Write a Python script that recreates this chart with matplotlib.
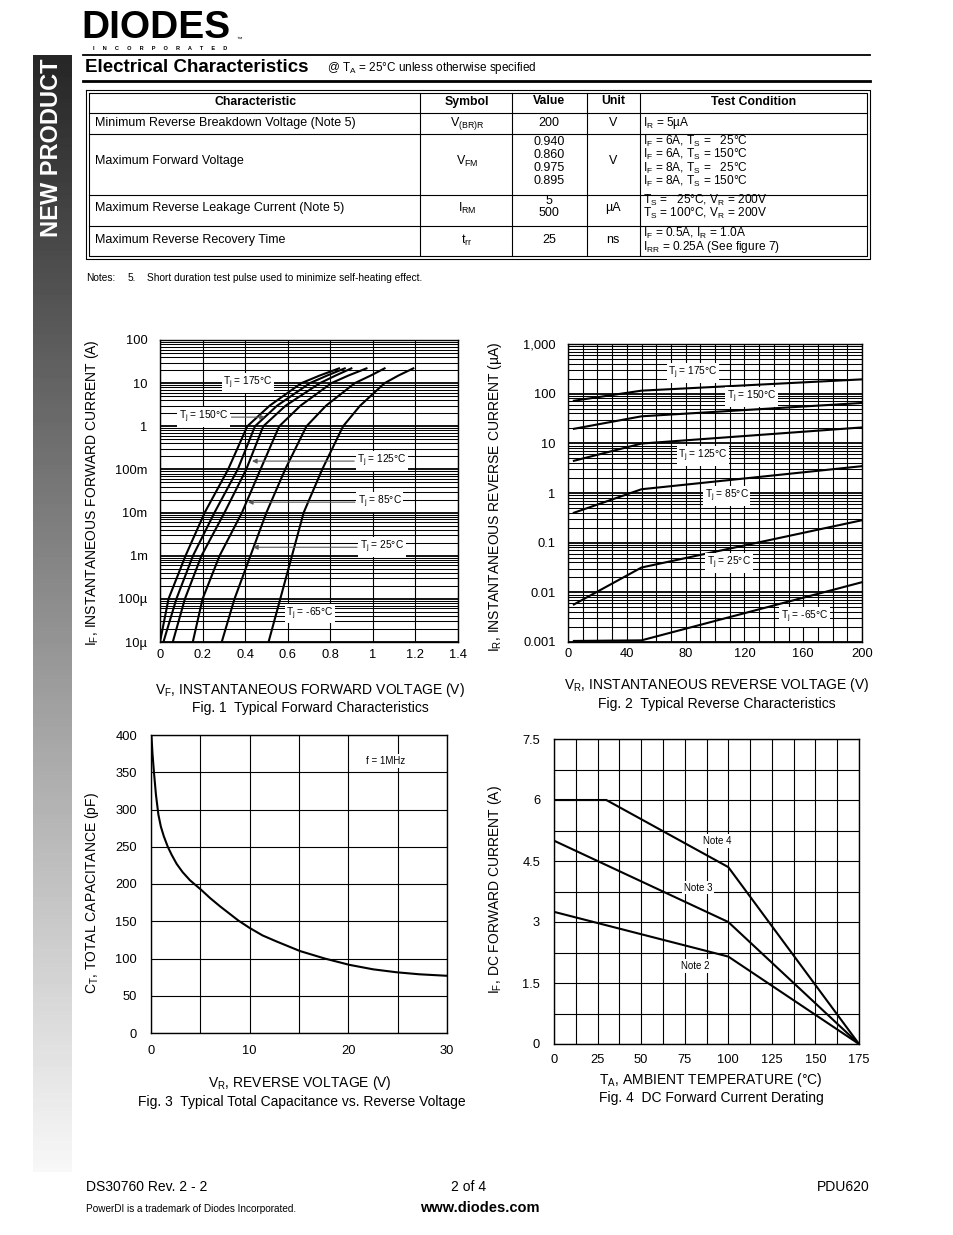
import numpy as np
import matplotlib
matplotlib.use('Agg')
import matplotlib.pyplot as plt
from matplotlib.ticker import LogLocator, NullFormatter, MultipleLocator, FixedLocator

plt.rcParams['font.family'] = ['Liberation Sans', 'DejaVu Sans']
plt.rcParams['mathtext.fontset'] = 'custom'
plt.rcParams['mathtext.rm'] = 'Liberation Sans'
plt.rcParams['mathtext.it'] = 'Liberation Sans'
plt.rcParams['mathtext.bf'] = 'Liberation Sans:bold'

# ---------------- data ----------------
# Fig 1: forward characteristics (current levels, forward voltage per Tj)
fwd_current = [1e-5, 1e-4, 1e-3, 1e-2, 1e-1, 1, 3, 10, 15, 22]
fwd_v_175 = [0.0, 0.04, 0.12, 0.21, 0.32, 0.41, 0.515, 0.664, 0.75, 0.841]
fwd_v_150 = [0.016, 0.077, 0.155, 0.256, 0.365, 0.446, 0.55, 0.704, 0.785, 0.868]
fwd_v_125 = [0.06, 0.117, 0.195, 0.303, 0.405, 0.485, 0.59, 0.751, 0.825, 0.899]
fwd_v_85 = [0.154, 0.2, 0.28, 0.385, 0.472, 0.56, 0.66, 0.805, 0.885, 0.97]
fwd_v_25 = [0.29, 0.35, 0.425, 0.5, 0.588, 0.688, 0.78, 0.915, 0.99, 1.055]
fwd_v_m65 = [0.51, 0.565, 0.62, 0.675, 0.762, 0.86, 0.94, 1.055, 1.12, 1.19]
fig1_yticks = [1e-5, 1e-4, 1e-3, 1e-2, 1e-1, 1, 10, 100]
fig1_ylabels = ['10\u00b5', '100\u00b5', '1m', '10m', '100m', '1', '10', '100']
fig1_xticks = [0, 0.2, 0.4, 0.6, 0.8, 1.0, 1.2, 1.4]
fig1_xlabels = ['0', '0.2', '0.4', '0.6', '0.8', '1', '1.2', '1.4']

# Fig 2: reverse characteristics
rev_voltage = [4, 50, 200]
rev_i_175 = [72, 115, 194]
rev_i_150 = [19.6, 35, 65]
rev_i_125 = [4.45, 9.9, 20.9]
rev_i_85 = [0.40, 1.19, 3.47]
rev_i_25 = [0.0057, 0.0316, 0.283]
rev_i_m65 = [0.00105, 0.00108, 0.016]
fig2_yticks = [1e-3, 1e-2, 1e-1, 1, 10, 100, 1000]
fig2_ylabels = ['0.001', '0.01', '0.1', '1', '10', '100', '1,000']
fig2_xticks = [0, 40, 80, 120, 160, 200]

# Fig 3: capacitance
cap_v = [0.05, 0.15, 0.3, 0.5, 0.75, 1.0, 1.3, 1.7, 2.1, 2.6, 3.2, 3.95, 5.1, 6.0,
         7.0, 8.85, 10, 11.3, 12.7, 15.1, 17.6, 20.1, 22.5, 24.9, 27.2, 30]
cap_pf = [398, 375, 350, 320, 293, 277, 264, 250, 239, 227, 216, 205, 192, 181,
          170, 151, 141, 131, 123, 110, 100, 91.5, 85.5, 81.5, 78.8, 76.8]

# Fig 4: derating
note4_t = [0, 30, 100, 175]
note4_i = [6.0, 6.0, 4.35, 0.0]
note3_t = [0, 100, 175]
note3_i = [5.0, 3.0, 0.0]
note2_t = [0, 100, 175]
note2_i = [3.25, 2.15, 0.0]

# ---------------- figure ----------------
W, H = 954, 1235
fig = plt.figure(figsize=(W / 100, H / 100), dpi=100)
bg = fig.add_axes([0, 0, 1, 1])
bg.set_xlim(0, W)
bg.set_ylim(H, 0)
bg.axis('off')


def fax(l, t, r, b):
    return fig.add_axes([l / W, 1 - b / H, (r - l) / W, (b - t) / H])


# side bar
grad = np.linspace(0.15, 0.97, 256).reshape(-1, 1)
bg.imshow(grad, extent=[33, 72, 1172, 55], cmap='gray', vmin=0, vmax=1,
          aspect='auto', origin='upper', zorder=0)
bg.text(52, 148, 'NEW PRODUCT', rotation=90, color='white', fontsize=17,
        fontweight='bold', ha='center', va='center')

# logo
bg.text(81, 38, 'DIODES', fontsize=28, fontweight='heavy', ha='left',
        va='baseline', color='black')
bg.text(237, 41, '\u2122', fontsize=4, ha='left', va='baseline')
bg.text(160, 48.5, 'I     N     C     O     R     P     O     R     A     T     E     D',
        fontsize=4.1, fontweight='bold', ha='center', va='center')
bg.plot([83, 870], [55, 55], color='k', lw=1.3)
bg.text(85, 68, 'Electrical Characteristics', fontsize=13.5, fontweight='bold',
        ha='left', va='center')
bg.text(327, 68, '@ T$_\\mathregular{A}$ = 25\u00b0C unless otherwise specified',
        fontsize=8.5, ha='left', va='center')
bg.plot([83, 870], [80.5, 80.5], color='k', lw=2.0)

# table
tl, tr, tt, tb = 86, 870, 90, 259
for d in (0, 3):
    bg.plot([tl + d, tr - d, tr - d, tl + d, tl + d],
            [tt + d, tt + d, tb - d, tb - d, tt + d], color='k', lw=0.8)
for y in (113, 134, 195, 226):
    bg.plot([tl + 3, tr - 3], [y, y], color='k', lw=0.8)
for x in (420, 512, 587, 640):
    bg.plot([x, x], [tt + 3, tb - 3], color='k', lw=0.8)

hdr_y = 102
hfs = 8.8
bg.text(256, hdr_y, 'Characteristic', fontsize=hfs, fontweight='bold', ha='center', va='center')
bg.text(467, hdr_y, 'Symbol', fontsize=hfs, fontweight='bold', ha='center', va='center')
bg.text(549, hdr_y - 1, 'Value', fontsize=hfs, fontweight='bold', ha='center', va='center')
bg.text(613, hdr_y - 1, 'Unit', fontsize=hfs, fontweight='bold', ha='center', va='center')
bg.text(754, hdr_y, 'Test Condition', fontsize=hfs, fontweight='bold', ha='center', va='center')

fs = 9
tfs = 8.6
rows_char = [('Minimum Reverse Breakdown Voltage (Note 5)', 123),
             ('Maximum Forward Voltage', 161),
             ('Maximum Reverse Leakage Current (Note 5)', 208),
             ('Maximum Reverse Recovery Time', 240)]
for txt, y in rows_char:
    bg.text(95, y, txt, fontsize=fs, ha='left', va='center')
rows_sym = [('V$_\\mathregular{(BR)R}$', 123), ('V$_\\mathregular{FM}$', 161),
            ('I$_\\mathregular{RM}$', 208), ('t$_\\mathregular{rr}$', 240)]
for txt, y in rows_sym:
    bg.text(467, y, txt, fontsize=fs, ha='center', va='center')
rows_val = [('200', 123), ('0.940', 142), ('0.860', 155), ('0.975', 168), ('0.895', 181),
            ('5', 201), ('500', 213.5), ('25', 240)]
for txt, y in rows_val:
    bg.text(549, y, txt, fontsize=fs, ha='center', va='center')
rows_unit = [('V', 123), ('V', 161), ('\u00b5A', 208), ('ns', 240)]
for txt, y in rows_unit:
    bg.text(613, y, txt, fontsize=fs, ha='center', va='center')
rows_test = [('I$_\\mathregular{R}$ = 5\u00b5A', 123),
             ('I$_\\mathregular{F}$ = 6A, T$_\\mathregular{S}$ =   25\u00b0C', 141.5),
             ('I$_\\mathregular{F}$ = 6A, T$_\\mathregular{S}$ = 150\u00b0C', 154.9),
             ('I$_\\mathregular{F}$ = 8A, T$_\\mathregular{S}$ =   25\u00b0C', 168.3),
             ('I$_\\mathregular{F}$ = 8A, T$_\\mathregular{S}$ = 150\u00b0C', 181.7),
             ('T$_\\mathregular{S}$ =   25\u00b0C, V$_\\mathregular{R}$ = 200V', 200.5),
             ('T$_\\mathregular{S}$ = 100\u00b0C, V$_\\mathregular{R}$ = 200V', 213.9),
             ('I$_\\mathregular{F}$ = 0.5A, I$_\\mathregular{R}$ = 1.0A', 233.3),
             ('I$_\\mathregular{RR}$ = 0.25A (See figure 7)', 246.7)]
for txt, y in rows_test:
    bg.text(643, y, txt, fontsize=tfs, ha='left', va='center')

bg.text(86, 278, 'Notes:', fontsize=7.3, ha='left', va='center')
bg.text(128, 278, '5.', fontsize=7.3, ha='left', va='center')
bg.text(147, 278, 'Short duration test pulse used to minimize self-heating effect.',
        fontsize=7.3, ha='left', va='center')

# footer
bg.text(86, 1187, 'DS30760 Rev. 2 - 2', fontsize=10, ha='left', va='center')
bg.text(469, 1187, '2 of 4', fontsize=10, ha='center', va='center')
bg.text(870, 1187, 'PDU620', fontsize=10, ha='right', va='center')
bg.text(86, 1209, 'PowerDI is a trademark of Diodes Incorporated.', fontsize=7.2,
        ha='left', va='center')
bg.text(480, 1208, 'www.diodes.com', fontsize=10.5, fontweight='bold', ha='center', va='center')

LBL = 10
TCK = 9.3
box = dict(facecolor='white', edgecolor='none', pad=1.2)
IN_FS = 7.3


def style(ax):
    for s in ax.spines.values():
        s.set_linewidth(1.0)
        s.set_color('k')
    ax.tick_params(which='both', length=0, labelsize=TCK)
    ax.set_axisbelow(True)


# ---------- Fig 1 ----------
ax1 = fax(160, 340, 458, 642)
ax1.set_yscale('log')
ax1.set_xlim(0, 1.4)
ax1.set_ylim(1e-5, 100)
for v in (fwd_v_175, fwd_v_150, fwd_v_125, fwd_v_85, fwd_v_25, fwd_v_m65):
    ax1.plot(v, fwd_current, color='k', lw=1.5, zorder=3)
ax1.set_xticks(fig1_xticks)
ax1.set_xticklabels(fig1_xlabels)
ax1.yaxis.set_major_locator(FixedLocator(fig1_yticks))
ax1.set_yticklabels(fig1_ylabels)
ax1.yaxis.set_minor_locator(LogLocator(base=10, subs=np.arange(2, 10), numticks=60))
ax1.yaxis.set_minor_formatter(NullFormatter())
ax1.xaxis.grid(True, which='major', color='k', lw=0.8)
ax1.yaxis.grid(True, which='major', color='k', lw=1.3)
ax1.yaxis.grid(True, which='minor', color='k', lw=0.75)
style(ax1)
ax1.tick_params(axis='y', pad=9)
ax1.tick_params(axis='x', pad=5)
arrow = dict(arrowstyle='-|>', color='0.35', lw=0.8, shrinkA=1, shrinkB=0, mutation_scale=7)
ax1.text(0.413, 10, 'T$_\\mathregular{j}$ = 175\u00b0C', fontsize=IN_FS, ha='center',
         va='center', bbox=box, zorder=5)
ax1.annotate('T$_\\mathregular{j}$ = 150\u00b0C', xy=(0.493, 1.63), xytext=(0.205, 1.63),
             fontsize=IN_FS, ha='center', va='center', bbox=box, arrowprops=arrow, zorder=5)
ax1.annotate('T$_\\mathregular{j}$ = 125\u00b0C', xy=(0.432, 0.156), xytext=(1.043, 0.156),
             fontsize=IN_FS, ha='center', va='center', bbox=box, arrowprops=arrow, zorder=5)
ax1.annotate('T$_\\mathregular{j}$ = 85\u00b0C', xy=(0.413, 0.0174), xytext=(1.033, 0.0174),
             fontsize=IN_FS, ha='center', va='center', bbox=box, arrowprops=arrow, zorder=5)
ax1.annotate('T$_\\mathregular{j}$ = 25\u00b0C', xy=(0.437, 0.00157), xytext=(1.043, 0.00157),
             fontsize=IN_FS, ha='center', va='center', bbox=box, arrowprops=arrow, zorder=5)
ax1.text(0.705, 4.6e-5, 'T$_\\mathregular{j}$ = -65\u00b0C', fontsize=IN_FS, ha='center',
         va='center', bbox=box, zorder=5)
bg.text(92, 493, 'I$_\\mathregular{F}$, INSTANTANEOUS FORWARD CURRENT (A)', rotation=90,
        fontsize=LBL, ha='center', va='center')
bg.text(310, 690, 'V$_\\mathregular{F}$, INSTANTANEOUS FORWARD VOLTAGE (V)', fontsize=LBL,
        ha='center', va='center')
bg.text(310, 708, 'Fig. 1  Typical Forward Characteristics', fontsize=LBL,
        ha='center', va='center')

# ---------- Fig 2 ----------
ax2 = fax(568, 344, 862, 642)
ax2.set_yscale('log')
ax2.set_xlim(0, 200)
ax2.set_ylim(1e-3, 1000)
for i in (rev_i_175, rev_i_150, rev_i_125, rev_i_85, rev_i_25, rev_i_m65):
    ax2.plot(rev_voltage, i, color='k', lw=1.5, zorder=3)
ax2.set_xticks(fig2_xticks)
ax2.xaxis.set_minor_locator(MultipleLocator(10))
ax2.yaxis.set_major_locator(FixedLocator(fig2_yticks))
ax2.set_yticklabels(fig2_ylabels)
ax2.yaxis.set_minor_locator(LogLocator(base=10, subs=np.arange(2, 10), numticks=60))
ax2.yaxis.set_minor_formatter(NullFormatter())
ax2.xaxis.grid(True, which='both', color='k', lw=0.8)
ax2.yaxis.grid(True, which='major', color='k', lw=1.3)
ax2.yaxis.grid(True, which='minor', color='k', lw=0.75)
style(ax2)
ax2.tick_params(axis='y', pad=9)
ax2.tick_params(axis='x', pad=4)
fig2_labels = [('175', 85, 260), ('150', 125, 85.7), ('125', 91.8, 5.56),
               ('85', 108, 0.87), ('25', 109.5, 0.039), ('-65', 161, 0.0032)]
for t, xv, yv in fig2_labels:
    ax2.text(xv, yv, 'T$_\\mathregular{j}$ = ' + t + '\u00b0C', fontsize=IN_FS, ha='center',
             va='center', bbox=box, zorder=5)
bg.text(495, 497, 'I$_\\mathregular{R}$, INSTANTANEOUS REVERSE CURRENT (\u00b5A)', rotation=90,
        fontsize=LBL, ha='center', va='center')
bg.text(717, 685, 'V$_\\mathregular{R}$, INSTANTANEOUS REVERSE VOLTAGE (V)', fontsize=LBL,
        ha='center', va='center')
bg.text(717, 704, 'Fig. 2  Typical Reverse Characteristics', fontsize=LBL,
        ha='center', va='center')

# ---------- Fig 3 ----------
ax3 = fax(151, 735, 447, 1033)
ax3.set_xlim(0, 30)
ax3.set_ylim(0, 400)
ax3.plot(cap_v, cap_pf, color='k', lw=1.5, zorder=3)
ax3.set_xticks([0, 10, 20, 30])
ax3.xaxis.set_minor_locator(MultipleLocator(5))
ax3.set_yticks(np.arange(0, 401, 50))
ax3.grid(True, which='both', color='k', lw=0.8)
style(ax3)
ax3.tick_params(axis='y', pad=10)
ax3.tick_params(axis='x', pad=9)
ax3.text(23.8, 365, 'f = 1MHz', fontsize=7, ha='center', va='center', bbox=box, zorder=5)
bg.text(92, 893, 'C$_\\mathregular{T}$, TOTAL CAPACITANCE (pF)', rotation=90,
        fontsize=LBL, ha='center', va='center')
bg.text(300, 1083, 'V$_\\mathregular{R}$, REVERSE VOLTAGE (V)', fontsize=LBL,
        ha='center', va='center')
bg.text(302, 1102, 'Fig. 3  Typical Total Capacitance vs. Reverse Voltage', fontsize=LBL,
        ha='center', va='center')

# ---------- Fig 4 ----------
ax4 = fax(554, 739, 859, 1044)
ax4.set_xlim(0, 175)
ax4.set_ylim(0, 7.5)
for tt_, ii_ in ((note4_t, note4_i), (note3_t, note3_i), (note2_t, note2_i)):
    ax4.plot(tt_, ii_, color='k', lw=1.5, zorder=3)
ax4.set_xticks(np.arange(0, 176, 25))
ax4.xaxis.set_minor_locator(MultipleLocator(12.5))
ax4.set_yticks([0, 1.5, 3, 4.5, 6, 7.5])
ax4.set_yticklabels(['0', '1.5', '3', '4.5', '6', '7.5'])
ax4.yaxis.set_minor_locator(MultipleLocator(0.75))
ax4.grid(True, which='both', color='k', lw=0.8)
style(ax4)
ax4.tick_params(axis='y', pad=10)
ax4.tick_params(axis='x', pad=7)
for t, xv, yv in (('Note 4', 93.5, 4.99), ('Note 3', 82.6, 3.84), ('Note 2', 80.9, 1.92)):
    ax4.text(xv, yv, t, fontsize=7, ha='center', va='center', bbox=box, zorder=5)
bg.text(495, 890, 'I$_\\mathregular{F}$, DC FORWARD CURRENT (A)', rotation=90,
        fontsize=LBL, ha='center', va='center')
bg.text(711, 1080, 'T$_\\mathregular{A}$, AMBIENT TEMPERATURE (\u00b0C)', fontsize=LBL,
        ha='center', va='center')
bg.text(711, 1098, 'Fig. 4  DC Forward Current Derating', fontsize=LBL,
        ha='center', va='center')

fig.savefig('out.png', dpi=100)
